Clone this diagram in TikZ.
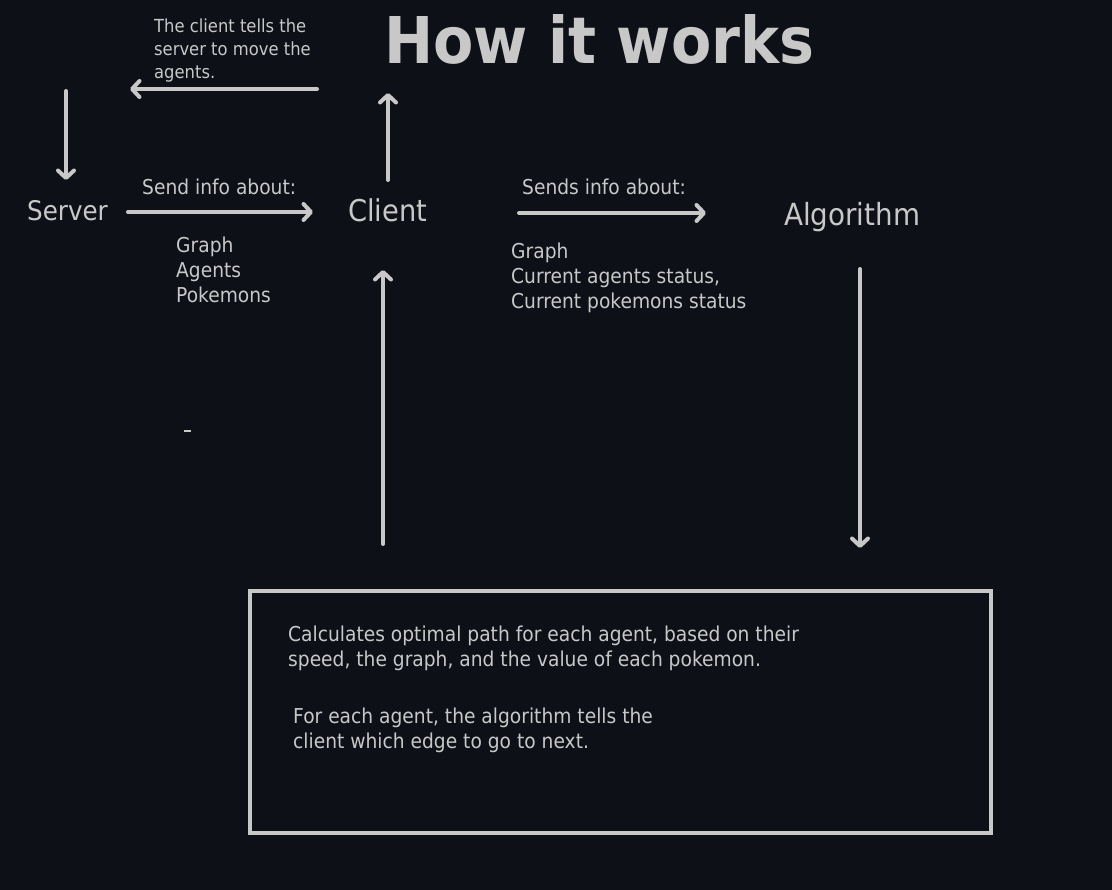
\documentclass[tikz,border=0pt]{standalone}
\usepackage{fontspec}
\setmainfont{DejaVu Sans}[FakeStretch=0.91]
\usetikzlibrary{arrows.meta}
\definecolor{bg}{HTML}{0D1017}
\definecolor{fg}{HTML}{C8C8C8}
\begin{document}
\begin{tikzpicture}[x=1pt,y=-1pt,
  txt/.style={text=fg,inner sep=0pt,anchor=base west,align=left},
  body/.style={txt,font=\fontsize{20.5}{25}\selectfont},
  big/.style={txt,font=\fontsize{30}{36}\selectfont},
  arr/.style={draw=fg,line width=4pt,line cap=round,-{Straight Barb[length=7.5pt,width=16pt,line cap=round,line join=round]}},
  panel/.style={draw=fg,line width=4pt}]
\useasboundingbox[fill=bg] (0,0) rectangle (1112,890);

% multi-line nodes: base anchor = baseline of last line
\node[txt,font=\bfseries\fontsize{64.5}{70}\selectfont] (title) at (384,64) {How it works};
\node[txt,font=\fontsize{18}{23}\selectfont] (note) at (154,79) {The client tells the\\server to move the\\agents.};
\node[txt,font=\fontsize{27}{32}\selectfont] (server) at (27,221) {Server};
\node[big] (client) at (348,222) {Client};
\node[txt,font=\fontsize{30.5}{36}\selectfont] (algo) at (784,226) {Algorithm};
\node[body] (send) at (142,195) {Send info about:};
\node[body] (list1) at (176,303) {Graph\\Agents\\Pokemons};
\node[body] (sends) at (522,195) {Sends info about:};
\node[body] (list2) at (511,309) {Graph\\Current agents status,\\Current pokemons status};

\node[panel,minimum width=741pt,minimum height=242pt,anchor=north west,inner sep=0pt] (box) at (248,589) {};
\node[body] (calc) at (288,666) {Calculates optimal path for each agent, based on their\\speed, the graph, and the value of each pokemon.};
\node[body] (tell) at (293,748) {For each agent, the algorithm tells the\\client which edge to go to next.};

% arrows
\coordinate (sdTop) at (66,91);   \coordinate (sdBot) at (66,180);
\coordinate (csR) at (317,89);    \coordinate (csL) at (130,89);
\coordinate (cuBot) at (388,180); \coordinate (cuTop) at (388,93);
\coordinate (scL) at (128,212);   \coordinate (scR) at (313,212);
\coordinate (buBot) at (383,544); \coordinate (buTop) at (383,270);
\coordinate (caL) at (519,213);   \coordinate (caR) at (706,213);
\coordinate (adTop) at (860,269); \coordinate (adBot) at (860,548);
\draw[arr] (sdTop) -- (sdBot);
\draw[arr] (csR) -- (csL);
\draw[arr] (cuBot) -- (cuTop);
\draw[arr] (scL) -- (scR);
\draw[arr] (buBot) -- (buTop);
\draw[arr] (caL) -- (caR);
\draw[arr] (adTop) -- (adBot);

% stray dash
\coordinate (dashL) at (184,431); \coordinate (dashR) at (191,431);
\draw[fg,line width=1.5pt] (dashL) -- (dashR);
\end{tikzpicture}
\end{document}
